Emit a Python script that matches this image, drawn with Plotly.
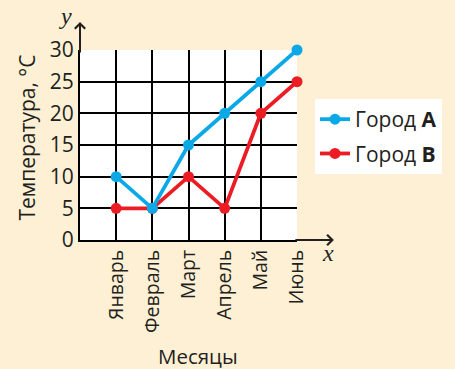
import plotly.graph_objects as go

months = ["Январь", "Февраль", "Март", "Апрель", "Май", "Июнь"]
city_a = [10, 5, 15, 20, 25, 30]
city_b = [5, 5, 10, 5, 20, 25]
y_ticks = [0, 5, 10, 15, 20, 25, 30]

BLUE = "#0AA8E6"
RED = "#EC1C24"
INK = "#231F20"
BG = "#FDF0D4"
FONT = "Open Sans"

x_pos = list(range(1, len(months) + 1))

fig = go.Figure()
# city B first so city A's markers sit on top where they coincide
fig.add_trace(go.Scatter(
    x=x_pos, y=city_b, mode="lines+markers", name="Город <b>В</b>",
    legendgroup="b", legendrank=2,
    line=dict(color=RED, width=3.8), marker=dict(color=RED, size=11),
    cliponaxis=False,
))
fig.add_trace(go.Scatter(
    x=x_pos, y=city_a, mode="lines+markers", name="Город <b>А</b>",
    legendgroup="a", legendrank=1,
    line=dict(color=BLUE, width=3.8), marker=dict(color=BLUE, size=11),
    cliponaxis=False,
))

fig.update_layout(
    width=455, height=369,
    margin=dict(l=80, r=158, t=50, b=129),
    paper_bgcolor=BG, plot_bgcolor="white",
    font=dict(family=FONT, color=INK, size=18),
    showlegend=True,
    legend=dict(
        x=1.083, y=0.742, xanchor="left", yanchor="top",
        bgcolor="white", borderwidth=0,
        font=dict(size=21, color=INK, family=FONT),
        itemwidth=30, traceorder="grouped",
        tracegroupgap=4, entrywidth=130,
    ),
    xaxis=dict(
        range=[0, 6], tickmode="array", tickvals=x_pos, ticktext=months,
        tickangle=-90, showgrid=True, gridcolor="black", gridwidth=2,
        showline=True, linecolor="black", linewidth=2,
        zeroline=False, ticks="", tickfont=dict(size=19.5),
    ),
    yaxis=dict(
        range=[0, 30], tickmode="array", tickvals=y_ticks,
        showgrid=True, gridcolor="black", gridwidth=2,
        showline=True, linecolor="black", linewidth=2,
        zeroline=False, ticks="", tickfont=dict(size=21),
    ),
)

annotations = [
    # axis arrows
    dict(xref="paper", yref="paper", x=0, y=1.148, ax=0, ay=32,
         showarrow=True, arrowhead=4, arrowsize=1, arrowwidth=2,
         arrowcolor=INK, text=""),
    dict(xref="paper", yref="paper", x=1.17, y=0, ax=-40, ay=0,
         showarrow=True, arrowhead=4, arrowsize=1, arrowwidth=2,
         arrowcolor=INK, text=""),
    dict(xref="paper", yref="paper", x=-0.069, y=1.18, text="<i>y</i>",
         xanchor="center", yanchor="middle",
         showarrow=False, font=dict(family="Liberation Serif", size=24, color=INK)),
    dict(xref="paper", yref="paper", x=1.143, y=-0.07, text="<i>x</i>",
         xanchor="center", yanchor="middle",
         showarrow=False, font=dict(family="Liberation Serif", size=24, color=INK)),
    # axis titles
    dict(xref="paper", yref="paper", x=0.544, y=-0.608, text="Месяцы",
         xanchor="center", yanchor="middle",
         showarrow=False, font=dict(size=20.5, color=INK)),
    dict(xref="paper", yref="paper", x=-0.246, y=0.537, text="Температура, °C",
         xanchor="center", yanchor="middle",
         textangle=-90, showarrow=False, font=dict(size=21, color=INK)),
]
fig.update_layout(annotations=annotations)

fig.write_html("out.html")
